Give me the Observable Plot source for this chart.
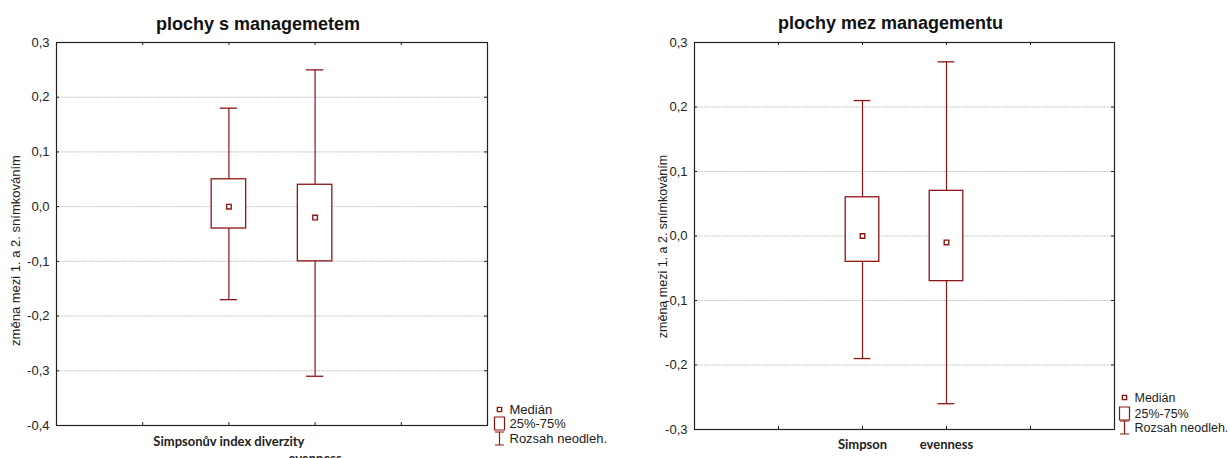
<!DOCTYPE html>
<html><head><meta charset="utf-8">
<script src="https://cdn.jsdelivr.net/npm/d3@7"></script>
<script src="https://cdn.jsdelivr.net/npm/@observablehq/plot@0.6"></script>
<style>
body{margin:0;background:#fff;}
#wrap{display:flex;width:1230px;height:458px;overflow:hidden;}
#wrap svg{display:block;overflow:visible;}
</style></head><body><div id="wrap"></div>
<script>
const yLabel = "změna mezi 1. a 2. snímkováním";
const legendLabels = ["Medián", "25%-75%", "Rozsah neodleh."];

const leftTitle = "plochy s managemetem";
const leftCategories = ["Simpsonův index diverzity", "evenness"];
const leftMin = [-0.17, -0.31];
const leftQ1 = [-0.04, -0.10];
const leftMedian = [0.00, -0.02];
const leftQ3 = [0.05, 0.04];
const leftMax = [0.18, 0.25];
const leftYTicks = [-0.4, -0.3, -0.2, -0.1, 0.0, 0.1, 0.2, 0.3];

const rightTitle = "plochy mez managementu";
const rightCategories = ["Simpson", "evenness"];
const rightMin = [-0.19, -0.26];
const rightQ1 = [-0.04, -0.07];
const rightMedian = [0.00, -0.01];
const rightQ3 = [0.06, 0.07];
const rightMax = [0.21, 0.27];
const rightYTicks = [-0.3, -0.2, -0.1, 0.0, 0.1, 0.2, 0.3];

const RED = "#8e1515";
const FONT = "Liberation Sans, Arial, sans-serif";
const fmt = d => d.toFixed(1).replace(".", ",");

const boxSymbol = {draw(ctx) { ctx.rect(-5, -6.5, 10, 13); }};
const whiskerSymbol = {draw(ctx) {
  ctx.moveTo(-4.5, -6.5); ctx.lineTo(4.5, -6.5);
  ctx.moveTo(0, -6.5); ctx.lineTo(0, 6.5);
  ctx.moveTo(-4.5, 6.5); ctx.lineTo(4.5, 6.5);
}};

function makeChart(cfg) {
  const n = cfg.categories.length;
  const rows = cfg.categories.map((c, i) => ({
    cat: c, pos: i + 2, min: cfg.min[i], q1: cfg.q1[i], med: cfg.median[i],
    q3: cfg.q3[i], max: cfg.max[i], row: cfg.stagger ? i % 2 : 0
  }));
  const xTicks = d3.range(1, n + 3);
  const W = 615, H = 458;
  const fw = W - cfg.ml - cfg.mr, fh = H - cfg.mt - cfg.mb;
  const yDom = d3.extent(cfg.yTicks);
  const lg = cfg.legend;
  const catFont = {fontWeight: "bold", fontSize: 13, fontFamily: "Lato, sans-serif", fill: "#222", lineAnchor: "middle", textAnchor: "middle"};
  return Plot.plot({
    width: W, height: H,
    marginLeft: cfg.ml, marginRight: cfg.mr, marginTop: cfg.mt, marginBottom: cfg.mb,
    style: {fontFamily: FONT, background: "white", overflow: "visible"},
    x: {domain: [0, n + 3], axis: null},
    y: {domain: yDom, axis: null},
    marks: [
      Plot.ruleY(cfg.yTicks, {stroke: "#bdbdbd", strokeDasharray: "1.5,1", strokeWidth: 1}),
      Plot.tickY(cfg.yTicks, {insetRight: fw - 3, stroke: "#222"}),
      Plot.tickY(cfg.yTicks, {insetLeft: fw - 3, stroke: "#222"}),
      Plot.tickX(xTicks, {insetTop: fh - 3, stroke: "#222"}),
      Plot.tickX(xTicks, {insetBottom: fh - 3, stroke: "#222"}),
      Plot.ruleX(rows, {x: "pos", y1: "min", y2: "max", stroke: RED, strokeWidth: 1.2}),
      Plot.ruleY(rows, {x1: d => d.pos - 0.1, x2: d => d.pos + 0.1, y: "max", stroke: RED, strokeWidth: 1.3}),
      Plot.ruleY(rows, {x1: d => d.pos - 0.1, x2: d => d.pos + 0.1, y: "min", stroke: RED, strokeWidth: 1.3}),
      Plot.rect(rows, {x1: d => d.pos - 0.2, x2: d => d.pos + 0.2, y1: "q1", y2: "q3", fill: "white", stroke: RED, strokeWidth: 1.3}),
      Plot.dot(rows, {x: "pos", y: "med", symbol: "square", r: 2.6, fill: "white", stroke: RED, strokeWidth: 1.4}),
      Plot.frame({stroke: "#222", strokeWidth: 1.2}),
      Plot.text(cfg.yTicks, {y: d => d, frameAnchor: "left", text: fmt, textAnchor: "end", dx: -7, fontSize: 13, fill: "#222"}),
      Plot.text(rows.filter(d => d.row === 0), {x: "pos", frameAnchor: "bottom", text: "cat", dy: cfg.labelDy, ...catFont}),
      Plot.text(rows.filter(d => d.row === 1), {x: "pos", frameAnchor: "bottom", text: "cat", dy: cfg.labelDy2, ...catFont}),
      Plot.text([cfg.title], {frameAnchor: "top", text: d => d, dx: -14, dy: cfg.titleDy, textAnchor: "middle", lineAnchor: "bottom", fontWeight: "bold", fontSize: 18, fill: "#111"}),
      Plot.text([yLabel], {frameAnchor: "left", text: d => d, rotate: -90, dx: cfg.ylDx, dy: cfg.ylDy, textAnchor: "middle", lineAnchor: "middle", fontSize: cfg.ylSize, fill: "#222"}),
      Plot.dot([0], {frameAnchor: "bottom-right", dx: lg.sx, dy: lg.dy[0], symbol: "square", r: 2.4, fill: "white", stroke: RED, strokeWidth: 1.4}),
      Plot.dot([0], {frameAnchor: "bottom-right", dx: lg.sx, dy: lg.dy[1], symbol: boxSymbol, fill: "white", stroke: RED, strokeWidth: 1.2}),
      Plot.dot([0], {frameAnchor: "bottom-right", dx: lg.sx, dy: lg.dy[2], symbol: whiskerSymbol, fill: "none", stroke: RED, strokeWidth: 1.2}),
      ...legendLabels.map((t, i) => Plot.text([t], {frameAnchor: "bottom-right", text: d => d, dx: lg.tx, dy: lg.dy[i], textAnchor: "start", lineAnchor: "middle", fontSize: lg.size, fill: "#222"}))
    ]
  });
}

const wrap = document.getElementById("wrap");
wrap.appendChild(makeChart({
  title: leftTitle, categories: leftCategories, min: leftMin, q1: leftQ1, median: leftMedian,
  q3: leftQ3, max: leftMax, yTicks: leftYTicks, stagger: true,
  ml: 56, mr: 128, mt: 42, mb: 33, labelDy: 16, labelDy2: 33, titleDy: -13,
  ylSize: 13, ylDx: -41, ylDy: 16.5, legend: {sx: 12, tx: 22, dy: [-16, -2, 13], size: 13}
}));
wrap.appendChild(makeChart({
  title: rightTitle, categories: rightCategories, min: rightMin, q1: rightQ1, median: rightMedian,
  q3: rightQ3, max: rightMax, yTicks: rightYTicks, stagger: false,
  ml: 79, mr: 116, mt: 42, mb: 29, labelDy: 15, labelDy2: 15, titleDy: -13.5,
  ylSize: 12.5, ylDx: -32, ylDy: 10.5, legend: {sx: 10, tx: 20, dy: [-32, -16, -2], size: 12.5}
}));
</script></body></html>
